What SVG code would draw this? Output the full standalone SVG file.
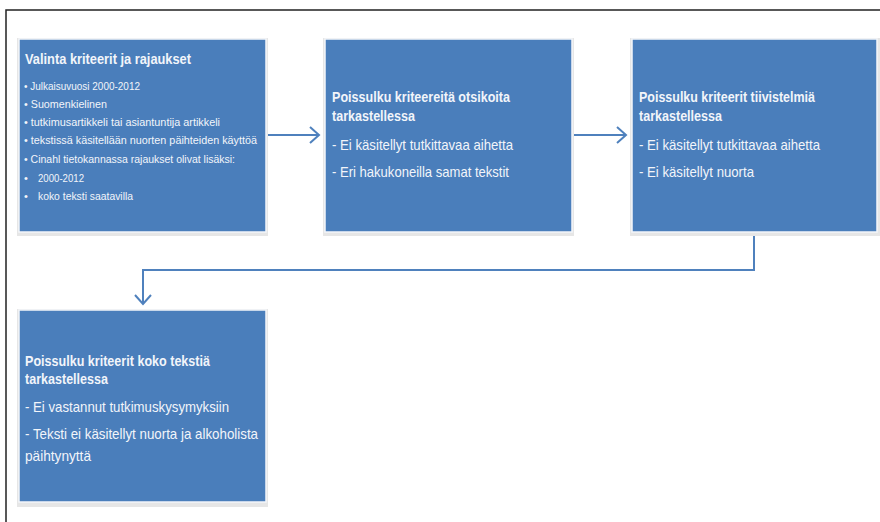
<svg xmlns="http://www.w3.org/2000/svg" width="880" height="522" viewBox="0 0 880 522">
<defs>
<marker id="ah" markerWidth="14" markerHeight="18" refX="11" refY="9" orient="auto" markerUnits="userSpaceOnUse">
<path d="M2,1 L11,9 L2,17" fill="none" stroke="#4f81bd" stroke-width="2"/>
</marker>
</defs>
<style>
.box{fill:#4a7ebb;stroke:#f4f6fa;stroke-width:1.5}
.sh{fill:#e6e6e6}
.t{font-family:"Liberation Sans",Arial,sans-serif;fill:#f2f5fa}
.h{font-size:15px;font-weight:bold}
.b{font-size:15px}
.s{font-size:11px}
.c{fill:none;stroke:#4f81bd;stroke-width:2}
</style>
<rect width="880" height="522" fill="#fff"/>
<path d="M6,522 L6,10 L880,10" fill="none" stroke="#222" stroke-width="1.5"/>
<g id="connectors">
<path class="c" d="M266,135 L319,135" marker-end="url(#ah)"/>
<path class="c" d="M573,135 L626,135" marker-end="url(#ah)"/>
<path class="c" d="M754,232 L754,270 L143,270 L143,304" marker-end="url(#ah)"/>
</g>
<g id="n1">
<rect class="sh" x="17" y="38" width="251" height="198"/>
<rect class="box" x="19" y="39" width="247" height="193"/>
<text class="t h" x="25" y="64" textLength="166" lengthAdjust="spacingAndGlyphs">Valinta kriteerit ja rajaukset</text>
<text class="t s" x="24" y="90" textLength="116" lengthAdjust="spacingAndGlyphs">• Julkaisuvuosi 2000-2012</text>
<text class="t s" x="24" y="108" textLength="83" lengthAdjust="spacingAndGlyphs">• Suomenkielinen</text>
<text class="t s" x="24" y="126" textLength="196" lengthAdjust="spacingAndGlyphs">• tutkimusartikkeli tai asiantuntija artikkeli</text>
<text class="t s" x="24" y="144" textLength="233" lengthAdjust="spacingAndGlyphs">• tekstissä käsitellään nuorten päihteiden käyttöä</text>
<text class="t s" x="24" y="163" textLength="211" lengthAdjust="spacingAndGlyphs">• Cinahl tietokannassa rajaukset olivat lisäksi:</text>
<text class="t s" x="24" y="182">•</text>
<text class="t s" x="38" y="182" textLength="46" lengthAdjust="spacingAndGlyphs">2000-2012</text>
<text class="t s" x="24" y="200">•</text>
<text class="t s" x="38" y="200" textLength="95" lengthAdjust="spacingAndGlyphs">koko teksti saatavilla</text>
</g>
<g id="n2">
<rect class="sh" x="323" y="38" width="251" height="198"/>
<rect class="box" x="325" y="39" width="247" height="193"/>
<text class="t h" x="332" y="102" textLength="178" lengthAdjust="spacingAndGlyphs">Poissulku kriteereitä otsikoita</text>
<text class="t h" x="332" y="121" textLength="83" lengthAdjust="spacingAndGlyphs">tarkastellessa</text>
<text class="t b" x="332" y="150" textLength="181" lengthAdjust="spacingAndGlyphs">- Ei käsitellyt tutkittavaa aihetta</text>
<text class="t b" x="332" y="177" textLength="177" lengthAdjust="spacingAndGlyphs">- Eri hakukoneilla samat tekstit</text>
</g>
<g id="n3">
<rect class="sh" x="630" y="38" width="250" height="198"/>
<rect class="box" x="632" y="39" width="245" height="193"/>
<text class="t h" x="639" y="102" textLength="176" lengthAdjust="spacingAndGlyphs">Poissulku kriteerit tiivistelmiä</text>
<text class="t h" x="639" y="121" textLength="83" lengthAdjust="spacingAndGlyphs">tarkastellessa</text>
<text class="t b" x="639" y="150" textLength="181" lengthAdjust="spacingAndGlyphs">- Ei käsitellyt tutkittavaa aihetta</text>
<text class="t b" x="639" y="177" textLength="115" lengthAdjust="spacingAndGlyphs">- Ei käsitellyt nuorta</text>
</g>
<g id="n4">
<rect class="sh" x="17" y="309" width="251" height="198"/>
<rect class="box" x="19" y="310" width="247" height="192"/>
<text class="t h" x="25" y="366" textLength="185" lengthAdjust="spacingAndGlyphs">Poissulku kriteerit koko tekstiä</text>
<text class="t h" x="25" y="384" textLength="83" lengthAdjust="spacingAndGlyphs">tarkastellessa</text>
<text class="t b" x="25" y="412" textLength="204" lengthAdjust="spacingAndGlyphs">- Ei vastannut tutkimuskysymyksiin</text>
<text class="t b" x="25" y="439" textLength="233" lengthAdjust="spacingAndGlyphs">- Teksti ei käsitellyt nuorta ja alkoholista</text>
<text class="t b" x="25" y="461" textLength="66" lengthAdjust="spacingAndGlyphs">päihtynyttä</text>
</g>
</svg>
